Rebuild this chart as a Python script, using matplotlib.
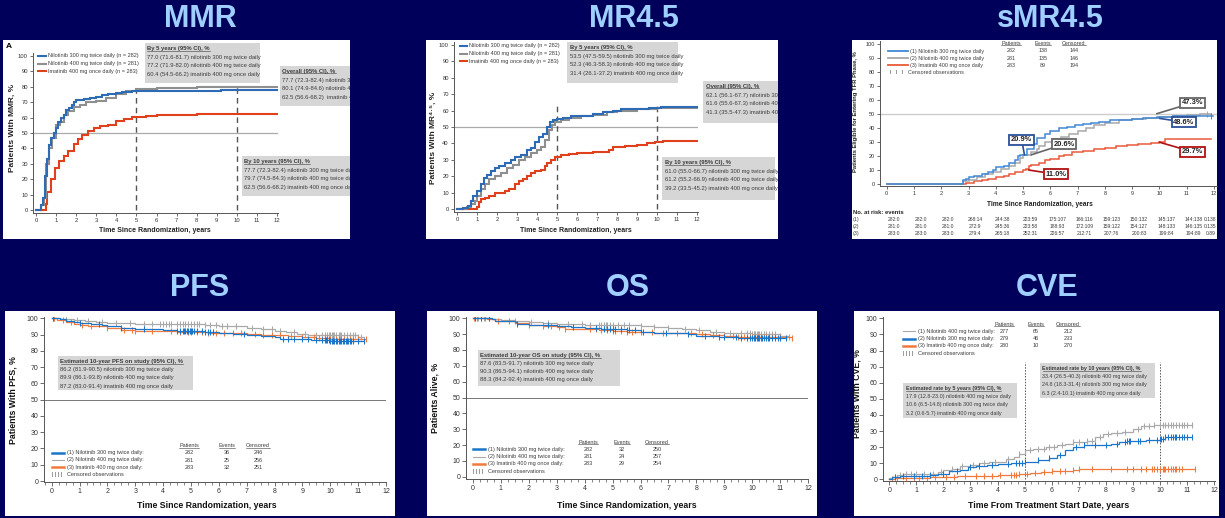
import matplotlib
matplotlib.use("Agg")
import matplotlib.pyplot as plt
import numpy as np
from matplotlib.patches import Rectangle
from matplotlib.ticker import MultipleLocator

W, H = 1225, 518
NAVY = "#00005a"
TITLE_C = "#9fcfff"
BOX_C = "#d6d6d6"
TXT_C = "#3c3c3c"
NARROW = ["Liberation Sans Narrow", "Liberation Sans", "DejaVu Sans"]
plt.rcParams["font.family"] = ["Liberation Sans", "DejaVu Sans"]

YEARS = list(range(13))
YTICKS = list(range(0, 101, 10))

# ---------------- MMR (cumulative %, step curves) ----------------
mmr_n300_t = [0, 0.25, 0.35, 0.45, 0.55, 0.65, 0.75, 0.9, 1.0, 1.1, 1.25, 1.4, 1.5, 1.65, 1.8, 1.9, 2.0, 2.4, 2.7, 3.0, 3.3, 3.6, 4.0, 4.3, 4.8, 5.5, 9.2, 12.0]
mmr_n300_y = [0, 3, 8, 22, 33, 42, 47, 50, 53, 57, 60, 62, 65, 66, 68, 70, 71.5, 72, 72.5, 73.5, 74.5, 75.5, 76.2, 76.8, 77.2, 77.5, 77.7, 77.7]
mmr_n400_t = [0, 0.25, 0.4, 0.5, 0.65, 0.8, 1.0, 1.2, 1.4, 1.6, 1.9, 2.2, 2.5, 3.0, 3.5, 4.0, 4.5, 5.0, 6.0, 8.0, 12.0]
mmr_n400_y = [0, 3, 8, 30, 40, 47, 55, 57, 62, 64, 67, 68, 70, 71, 73, 75.5, 77.5, 78.5, 79.5, 80.1, 80.1]
mmr_im_t = [0, 0.45, 0.5, 0.55, 0.75, 0.95, 1.15, 1.4, 1.6, 1.9, 2.1, 2.3, 2.6, 2.9, 3.2, 3.6, 4.0, 4.4, 4.8, 5.5, 6.0, 8.0, 12.0]
mmr_im_y = [0, 0, 4, 12, 20, 27, 32, 35, 38, 43, 46, 49, 51, 53, 54.5, 55.5, 57.5, 59, 60.5, 61, 62, 62.3, 62.5]

# ---------------- MR4.5 ----------------
mr_n300_t = [0, 0.3, 0.55, 0.7, 0.8, 1.0, 1.2, 1.35, 1.5, 1.7, 1.9, 2.1, 2.4, 2.7, 2.9, 3.2, 3.5, 3.7, 3.9, 4.1, 4.3, 4.5, 4.65, 4.8, 5.0, 5.3, 5.7, 6.2, 6.8, 7.3, 7.8, 8.2, 9.0, 9.6, 10.2, 12.0]
mr_n300_y = [0, 0.5, 2, 5, 8, 11, 15, 19, 21, 23, 25, 26, 28, 30, 32, 33, 36, 37, 41, 44, 46, 50, 53, 54, 55, 55.5, 56.5, 57, 58, 59, 60, 60.8, 61.2, 61.5, 62, 62.1]
mr_n400_t = [0, 0.5, 0.7, 0.9, 1.0, 1.2, 1.4, 1.6, 1.9, 2.2, 2.5, 2.8, 3.1, 3.4, 3.7, 4.0, 4.2, 4.4, 4.6, 4.75, 4.9, 5.2, 5.6, 6.2, 6.8, 7.5, 8.0, 9.0, 10.0, 12.0]
mr_n400_y = [0, 1, 3, 5, 8, 12, 15, 18, 20, 22, 25, 27, 30, 32, 34, 36, 38, 42, 48, 51, 53, 54, 55.5, 56.5, 57.5, 59, 60, 61, 61.6, 61.6]
mr_im_t = [0, 0.8, 1.0, 1.1, 1.2, 1.4, 1.6, 1.9, 2.2, 2.4, 2.6, 2.9, 3.1, 3.3, 3.5, 3.7, 3.9, 4.2, 4.4, 4.5, 4.7, 4.9, 5.2, 5.6, 6.0, 6.8, 7.3, 7.6, 7.8, 8.4, 9.0, 9.5, 9.9, 10.3, 12.0]
mr_im_y = [0, 0, 1, 4, 6, 7, 8, 9.5, 10, 11, 12, 15, 17, 18, 20, 22, 23, 24, 26, 28, 30, 32, 33, 33.5, 34, 34.5, 35, 36, 38, 38.5, 39, 40, 41, 41.3, 41.3]

# ---------------- sMR4.5 ----------------
smr_n300_t = [0, 2.78, 2.9, 3.0, 3.2, 3.5, 3.7, 3.9, 4.0, 4.3, 4.5, 4.7, 4.8, 4.9, 5.15, 5.4, 5.5, 5.8, 6.0, 6.3, 6.6, 6.9, 7.2, 7.5, 7.8, 8.2, 8.6, 9.0, 9.4, 9.9, 10.5, 11.0, 11.95]
smr_n300_y = [0, 3, 4, 5, 6, 7.5, 9, 10, 12, 13, 15, 17, 20, 21, 25, 29, 33, 36, 38, 40, 41, 42, 43, 43.5, 44.5, 45.5, 46, 46.5, 47, 48, 48.5, 48.6, 48.6]
smr_n400_t = [0, 2.8, 3.0, 3.3, 3.6, 3.9, 4.2, 4.5, 4.7, 4.9, 5.0, 5.3, 5.5, 5.6, 5.8, 6.1, 6.4, 6.7, 7.0, 7.3, 7.6, 8.0, 8.5, 9.0, 9.5, 10.0, 10.5, 11.0, 11.5, 11.9]
smr_n400_y = [0, 2, 3, 5, 7, 9, 11, 13, 15, 19, 21, 23, 25, 27, 30, 32, 34, 36, 38, 40, 42, 44, 45.5, 46.5, 47, 48, 49, 49.5, 50, 50]
smr_im_t = [0, 2.85, 2.9, 3.2, 3.5, 3.7, 4.0, 4.3, 4.5, 4.7, 5.0, 5.1, 5.2, 5.3, 5.6, 5.8, 6.0, 6.3, 6.5, 6.8, 7.2, 7.6, 8.0, 8.4, 8.8, 9.2, 9.7, 10.0, 10.2, 11.9]
smr_im_y = [0, 0, 1, 2, 3, 4, 5, 6, 7, 9, 10, 11, 13, 14, 15, 17, 18, 20, 21, 23, 24, 25, 26, 27, 28, 29, 29.5, 30, 32, 32]
smr_cens_n300 = [11.9]
smr_cens_n400 = [11.75]
risk_rows = ["(1)", "(2)", "(3)"]
risk_n300 = ["282:0", "282:0", "282:0", "268:14", "244:38", "223:59", "175:107", "166:116", "159:123", "150:132", "145:137", "144:138", "0:138"]
risk_n400 = ["281:0", "281:0", "281:0", "272:9", "245:36", "223:58", "188:93", "172:109", "159:122", "154:127", "148:133", "146:135", "0:135"]
risk_im = ["283:0", "283:0", "283:0", "279:4", "265:18", "252:31", "226:57", "212:71", "207:76", "200:83", "199:84", "194:89", "0:89"]

# ---------------- PFS (survival %) ----------------
pfs_n300_t = [0, 0.3, 0.5, 0.8, 1.0, 1.4, 1.8, 2.0, 2.5, 3.0, 4.0, 4.5, 5.2, 5.5, 6.0, 6.5, 7.0, 7.5, 8.0, 8.2, 8.8, 9.3, 10.0, 11.2]
pfs_n300_y = [100, 99.5, 98.5, 98, 97, 96.5, 96, 95, 94, 93.5, 93, 92.5, 92, 91.5, 91, 90.5, 89.5, 89, 88.5, 87.5, 87, 86.5, 86.2, 86.0]
pfs_n400_t = [0, 0.3, 0.8, 1.2, 1.6, 2.0, 3.0, 5.5, 6.0, 6.5, 7.0, 7.5, 8.0, 8.4, 8.8, 9.2, 9.8, 10.5, 11.0, 11.2]
pfs_n400_y = [100, 99.5, 99, 98.5, 98, 97, 96.5, 96, 95.5, 95, 94, 93.5, 92.5, 91.5, 90.5, 90, 89.9, 89.5, 88.5, 88.5]
pfs_im_t = [0, 0.2, 0.5, 0.8, 1.0, 1.3, 1.6, 2.0, 2.5, 3.0, 3.5, 4.5, 5.6, 7.0, 7.5, 8.5, 9.0, 9.5, 10.0, 11.0, 11.3]
pfs_im_y = [100, 99, 97.5, 96.5, 96, 95.5, 95, 94, 93, 92.5, 92, 91.5, 91, 90.5, 90, 89, 88.5, 88, 87.5, 87.2, 87.2]
pfs_cens_n300 = [0.05, 1.0, 1.7, 2.5, 3.3, 4.5, 4.6, 4.7, 4.75, 4.8, 4.85, 4.9, 4.95, 5.0, 5.05, 5.1, 5.2, 5.4, 5.5, 5.6, 5.7, 5.8, 6.9, 8.3, 8.5, 8.7, 9.0, 9.2, 9.5, 9.7, 9.8, 9.85, 9.9, 9.95, 10.0, 10.05, 10.1, 10.15, 10.2, 10.25, 10.3, 10.35, 10.4, 10.45, 10.5, 10.55, 10.6, 10.65, 10.7, 10.75, 10.8, 11.0, 11.2]
pfs_cens_n400 = [0.1, 0.5, 0.9, 1.3, 1.8, 2.3, 2.8, 3.3, 3.6, 3.9, 4.0, 4.1, 4.2, 4.3, 4.5, 4.6, 4.7, 4.8, 4.9, 5.0, 5.1, 5.2, 5.3, 5.5, 5.7, 5.9, 6.1, 6.3, 6.6, 7.2, 7.6, 7.9, 8.2, 8.7, 9.1, 9.5, 9.7, 9.8, 9.9, 9.95, 10.0, 10.05, 10.1, 10.15, 10.2, 10.3, 10.35, 10.4, 10.5, 10.6, 10.7, 10.8, 10.9, 11.0, 11.1]
pfs_cens_im = [0.05, 0.1, 0.4, 0.7, 1.1, 1.4, 2.0, 2.6, 2.9, 3.0, 3.6, 4.3, 4.6, 4.9, 5.0, 5.2, 5.4, 5.6, 5.9, 6.2, 6.5, 6.8, 7.3, 7.6, 7.9, 8.2, 8.6, 9.0, 9.4, 9.6, 9.8, 9.9, 10.0, 10.1, 10.2, 10.3, 10.4, 10.5, 10.6, 10.7, 10.8, 11.0, 11.3]

# ---------------- OS (survival %) ----------------
os_n300_t = [0, 0.7, 0.8, 1.2, 1.5, 1.6, 2.0, 2.5, 3.0, 3.5, 4.0, 4.6, 5.0, 5.5, 6.0, 6.5, 7.0, 7.7, 8.0, 8.8, 9.5, 11.2]
os_n300_y = [100, 99.5, 98.5, 98, 97.5, 96.5, 96, 95.5, 95, 94.5, 94, 93.5, 93, 92.5, 91.5, 91, 90.5, 90, 89, 88, 87.6, 87.5]
os_n400_t = [0, 0.7, 1.0, 1.5, 2.0, 2.5, 3.0, 4.0, 5.5, 6.0, 6.5, 7.0, 7.5, 8.0, 8.5, 9.0, 9.5, 10.0, 10.5, 11.0, 11.3]
os_n400_y = [100, 99.5, 99, 98, 97.5, 97, 96.5, 96, 95.5, 95, 94.5, 94, 93.5, 92.5, 91.5, 91, 90.5, 90.3, 90, 89, 88.5]
os_im_t = [0, 0.5, 0.8, 1.0, 1.5, 2.0, 2.5, 3.0, 3.3, 4.0, 4.5, 5.0, 5.5, 6.5, 7.0, 8.0, 8.5, 9.0, 9.5, 10.0, 11.0, 11.4]
os_im_y = [100, 99.5, 98.5, 98, 97, 96, 95, 94.5, 93.5, 93, 92.5, 92, 91.5, 91, 90.5, 90, 89.5, 89, 88.5, 88.3, 88, 87.5]
os_cens_n300 = [0.1, 0.3, 0.6, 1.6, 2.7, 3.6, 4.4, 4.7, 4.8, 4.9, 5.0, 5.1, 5.3, 5.5, 5.6, 5.8, 6.1, 6.9, 7.7, 8.3, 8.8, 9.0, 9.4, 9.6, 9.8, 9.9, 10.0, 10.05, 10.1, 10.15, 10.2, 10.25, 10.3, 10.35, 10.4, 10.5, 10.55, 10.6, 10.7, 10.8, 10.9, 11.0, 11.2]
os_cens_n400 = [0.1, 0.2, 0.4, 0.6, 1.5, 2.1, 2.7, 3.4, 3.9, 4.2, 4.5, 4.6, 4.7, 4.75, 4.8, 4.9, 5.0, 5.2, 5.4, 5.6, 6.0, 6.5, 7.0, 7.6, 8.1, 8.7, 9.2, 9.6, 9.8, 9.9, 10.0, 10.05, 10.1, 10.15, 10.2, 10.25, 10.3, 10.4, 10.5, 10.6, 10.7, 10.8, 11.0, 11.3]
os_cens_im = [0.05, 0.15, 0.3, 0.45, 0.9, 1.3, 2.0, 2.5, 2.8, 3.1, 3.3, 4.2, 4.4, 4.6, 4.8, 5.0, 5.1, 5.3, 5.5, 5.7, 6.0, 6.4, 6.8, 7.3, 7.8, 8.2, 8.6, 9.0, 9.3, 9.5, 9.7, 9.8, 9.9, 10.0, 10.1, 10.2, 10.3, 10.4, 10.5, 10.6, 10.7, 10.8, 11.0, 11.4]

# ---------------- CVE (cumulative %) ----------------
cve_n400_t = [0, 0.1, 0.3, 0.5, 1.0, 1.5, 1.8, 2.0, 2.3, 2.6, 3.0, 3.3, 3.7, 4.0, 4.3, 4.6, 4.8, 5.0, 5.3, 5.8, 6.2, 6.5, 6.8, 7.3, 7.6, 7.9, 8.2, 8.6, 9.0, 9.3, 9.8, 10.0, 11.2]
cve_n400_y = [1, 1.5, 2.5, 3, 3.2, 3.5, 4.5, 5.5, 6.5, 8, 9, 10, 10.5, 11, 12.5, 14, 16, 17.9, 19, 20, 21, 22, 23, 24, 26, 28, 29, 29.5, 31, 33, 33.5, 34, 34]
cve_n300_t = [0, 0.1, 0.4, 1.0, 1.5, 1.8, 2.2, 2.6, 2.9, 3.2, 3.6, 4.0, 4.5, 5.0, 5.5, 5.9, 6.2, 6.5, 6.8, 7.2, 7.8, 8.2, 8.5, 8.8, 9.5, 10.0, 10.2, 11.2]
cve_n300_y = [0, 1.5, 2, 2.2, 2.5, 3.5, 5, 6, 7.5, 8.5, 9, 9.5, 10, 10.6, 12, 13, 15, 18, 20, 21, 21.5, 22, 23, 24, 24.5, 25, 26.5, 26.5]
cve_im_t = [0, 0.2, 0.7, 1.5, 2.0, 2.5, 3.0, 4.0, 4.8, 5.2, 5.6, 6.0, 6.8, 7.0, 8.0, 10.0, 11.3]
cve_im_y = [0, 0.5, 1, 1.2, 1.5, 2, 2.2, 2.5, 3.2, 4, 4.5, 5, 6, 6.2, 6.3, 6.3, 6.5]
cve_cens_n400 = [0.2, 0.4, 0.6, 0.8, 1.0, 1.3, 1.6, 1.9, 2.3, 2.7, 3.1, 3.5, 3.9, 4.4, 4.8, 5.2, 5.5, 5.7, 5.9, 6.1, 6.4, 6.8, 7.0, 7.3, 7.5, 7.8, 8.1, 8.4, 8.7, 9.2, 9.4, 9.6, 9.8, 10.0, 10.1, 10.2, 10.3, 10.4, 10.5, 10.6, 10.7, 10.8, 10.9, 11.0, 11.2]
cve_cens_n300 = [0.2, 0.5, 0.9, 1.2, 1.5, 2.0, 2.5, 3.0, 3.3, 3.8, 4.4, 4.7, 4.8, 4.9, 5.0, 5.5, 5.9, 6.3, 6.9, 7.2, 7.6, 8.0, 8.4, 8.7, 8.8, 8.85, 8.9, 9.2, 9.25, 9.6, 9.9, 10.0, 10.05, 10.1, 10.2, 10.3, 10.4, 10.5, 10.55, 10.6, 10.7, 10.8, 10.9, 11.0, 11.2]
cve_cens_im = [0.1, 0.3, 0.6, 0.9, 1.1, 1.4, 1.7, 2.1, 2.4, 2.8, 3.2, 3.5, 3.8, 4.1, 4.5, 4.6, 4.7, 4.8, 5.1, 5.4, 5.7, 6.0, 6.3, 6.5, 6.8, 7.0, 7.5, 8.2, 8.8, 9.0, 9.3, 9.5, 9.7, 9.8, 9.9, 10.0, 10.1, 10.15, 10.2, 10.3, 10.4, 10.5, 10.55, 10.6, 10.7, 10.8, 11.3]

# legend / inset texts
arms_mmr = ["Nilotinib 300 mg twice daily (n = 282)", "Nilotinib 400 mg twice daily (n = 281)", "Imatinib 400 mg once daily (n = 283)"]
mmr_by5 = ["77.0 (71.6-81.7) nilotinib 300 mg twice daily", "77.2 (71.9-82.0) nilotinib 400 mg twice daily", "60.4 (54.5-66.2) imatinib 400 mg once daily"]
mmr_overall = ["77.7 (72.3-82.4) nilotinib 300 mg twice daily", "80.1 (74.9-84.6) nilotinib 400 mg twice daily", "62.5 (56.6-68.2)  imatinib 400 mg once daily"]
mmr_by10 = ["77.7 (72.3-82.4) nilotinib 300 mg twice daily", "79.7 (74.5-84.3) nilotinib 400 mg twice daily", "62.5 (56.6-68.2) imatinib 400 mg once daily"]
mr_by5 = ["53.5 (47.5-59.5) nilotinib 300 mg twice daily", "52.3 (46.3-58.3) nilotinib 400 mg twice daily", "31.4 (26.1-37.2) imatinib 400 mg once daily"]
mr_overall = ["62.1 (56.1-67.7) nilotinib 300 mg twice daily", "61.6 (55.6-67.3) nilotinib 400 mg twice daily", "41.3 (35.5-47.3) imatinib 400 mg once daily"]
mr_by10 = ["61.0 (55.0-66.7) nilotinib 300 mg twice daily", "61.2 (55.2-66.9) nilotinib 400 mg twice daily", "39.2 (33.5-45.2) imatinib 400 mg once daily"]
arms_num = ["(1) Nilotinib 300 mg twice daily", "(2) Nilotinib 400 mg twice daily", "(3) Imatinib 400 mg once daily"]
arms_cve = ["(1) Nilotinib 400 mg twice daily:", "(2) Nilotinib 300 mg twice daily:", "(3) Imatinib 400 mg once daily:"]
smr_table = [["282", "138", "144"], ["281", "135", "146"], ["283", "89", "194"]]
pfs_table = [["282", "36", "246"], ["281", "25", "256"], ["283", "32", "251"]]
os_table = [["282", "32", "250"], ["281", "24", "257"], ["283", "29", "254"]]
cve_table = [["277", "65", "212"], ["279", "46", "233"], ["280", "10", "270"]]
pfs_est = ["86.2 (81.9-90.5) nilotinib 300 mg twice daily", "89.9 (86.1-93.8) nilotinib 400 mg twice daily", "87.2 (83.0-91.4) imatinib 400 mg once daily"]
os_est = ["87.6 (83.5-91.7) nilotinib 300 mg twice daily", "90.3 (86.5-94.1) nilotinib 400 mg twice daily", "88.3 (84.2-92.4) imatinib 400 mg once daily"]
cve_by5 = ["17.9 (12.8-23.0) nilotinib 400 mg twice daily", "10.6 (6.5-14.8) nilotinib 300 mg twice daily", "3.2 (0.6-5.7) imatinib 400 mg once daily"]
cve_by10 = ["33.4 (26.5-40.3) nilotinib 400 mg twice daily", "24.8 (18.3-31.4) nilotinib 300 mg twice daily", "6.3 (2.4-10.1) imatinib 400 mg once daily"]

fig = plt.figure(figsize=(W / 100, H / 100), dpi=100)
fig.patch.set_facecolor(NAVY)
underlined = []


def step_val(t, y, x):
    i = np.searchsorted(t, x, side="right") - 1
    return np.asarray(y)[i]


def panel(x0, y0, x1, y1):
    rect = [x0 / W, 1 - y1 / H, (x1 - x0) / W, (y1 - y0) / H]
    fig.add_artist(Rectangle(rect[:2], rect[2], rect[3], transform=fig.transFigure,
                             fc="white", ec="none", zorder=-5))
    ov = fig.add_axes(rect, zorder=5)
    ov.set_xlim(x0, x1); ov.set_ylim(y1, y0); ov.axis("off")
    return ov


def plot_axes(x_zero, x_end, y_zero, y_hund, left, bottom, fs, xmax=12.05, ymax=102.0):
    sx = (x_end - x_zero) / 12.0
    sy = (y_zero - y_hund) / 100.0
    right = x_zero + xmax * sx
    top = y_zero - ymax * sy
    ax = fig.add_axes([left / W, 1 - bottom / H, (right - left) / W, (bottom - top) / H], zorder=2)
    ax.set_facecolor("none")
    ax.set_xlim(-(x_zero - left) / sx, xmax); ax.set_ylim(-(bottom - y_zero) / sy, ymax)
    ax.set_xticks(YEARS); ax.set_yticks(YTICKS)
    ax.spines[["top", "right"]].set_visible(False)
    ax.spines[["left", "bottom"]].set_color("#555")
    ax.spines[["left", "bottom"]].set_linewidth(0.7)
    ax.tick_params(labelsize=fs, length=2.5, width=0.6, pad=1.2, colors="#555", labelcolor="#333")
    return ax


def info_box(ov, x0, y0, x1, y1, header, lines, fs=4.2, lh=8.6, hx=2.5):
    ov.add_patch(Rectangle((x0, y0), x1 - x0, y1 - y0, fc=BOX_C, ec="none"))
    t = ov.text(x0 + hx, y0 + 5.5, header, fontsize=fs, fontweight="bold", color=TXT_C,
                va="center", family=NARROW, clip_on=True)
    underlined.append((ov, t))
    for k, s in enumerate(lines):
        ov.text(x0 + hx, y0 + 5.5 + lh * (k + 1), s, fontsize=fs, color=TXT_C, va="center",
                family=NARROW, clip_on=True)


def km(ax, t, y, c, lw, cens=None, ms=4.5):
    ax.step(t, y, where="post", color=c, lw=lw, solid_joinstyle="miter")
    if cens:
        ax.plot(cens, step_val(t, y, cens), ls="none", marker="|", ms=ms, mew=0.75, color=c)


def title(x, y, s):
    fig.text(x / W, 1 - y / H, s, fontsize=22, fontweight="bold", color=TITLE_C,
             ha="center", va="center")


BLUE1, GRAY1, RED1 = "#2d6cb5", "#8f8f8f", "#e0401c"
BLUE2, GRAY2, RED2 = "#4189d6", "#a8a8a8", "#e9593a"
BLUE3, GRAY3, ORG3 = "#1b76c9", "#a9a9a9", "#f07a3e"

# ================= MMR =================
title(200, 19, "MMR")
ov = panel(3, 40, 350, 239)
ax = plot_axes(36, 277, 210, 56, 33, 212.5, fs=4.2)
ax.axhline(50, color="#aaaaaa", lw=0.9, zorder=1)
for xv in (5, 10):
    ax.vlines(xv, 0, 80, color="#555", lw=1.0, linestyles=(0, (4, 3)))
km(ax, mmr_im_t, mmr_im_y, RED1, 1.5)
km(ax, mmr_n400_t, mmr_n400_y, GRAY1, 1.5)
km(ax, mmr_n300_t, mmr_n300_y, BLUE1, 1.5)
ov.text(6, 47, "A", fontsize=6, fontweight="bold", va="center")
for k, (lab, c) in enumerate(zip(arms_mmr, (BLUE1, GRAY1, RED1))):
    yy = 56 + 7.5 * k
    ov.plot([38, 46], [yy, yy], color=c, lw=1.5)
    ov.text(48, yy, lab, fontsize=4.0, color=TXT_C, va="center", family=NARROW)
info_box(ov, 145, 43, 260, 83, "By 5 years (95% CI), %", mmr_by5)
info_box(ov, 280, 66, 362, 106, "Overall (95% CI), %", mmr_overall)
info_box(ov, 242, 156, 362, 196, "By 10 years (95% CI), %", mmr_by10)
ov.text(12, 128, "Patients With MMR, %", rotation=90, fontsize=6, fontweight="bold",
        ha="center", va="center", color="#222")
ov.text(155, 230, "Time Since Randomization, years", fontsize=5, fontweight="bold",
        ha="center", va="center", color="#222")

# ================= MR4.5 =================
title(634, 19, "MR4.5")
ov = panel(426, 40, 778, 239)
ax = plot_axes(457, 697, 209, 45, 454, 212, fs=4.2)
ax.axhline(50, color="#aaaaaa", lw=0.9, zorder=1)
for xv in (5, 10):
    ax.vlines(xv, 0, 63, color="#555", lw=1.0, linestyles=(0, (4, 3)))
km(ax, mr_im_t, mr_im_y, RED1, 1.5)
km(ax, mr_n400_t, mr_n400_y, GRAY1, 1.5)
km(ax, mr_n300_t, mr_n300_y, BLUE1, 1.5)
for k, (lab, c) in enumerate(zip(arms_mmr, (BLUE1, GRAY1, RED1))):
    yy = 46 + 7.5 * k
    ov.plot([460, 467], [yy, yy], color=c, lw=1.5)
    ov.text(469, yy, lab, fontsize=4.0, color=TXT_C, va="center", family=NARROW)
info_box(ov, 567, 42, 678, 83, "By 5 years (95% CI), %", mr_by5)
info_box(ov, 703, 81, 790, 123, "Overall (95% CI), %", mr_overall)
info_box(ov, 662, 157, 775, 200, "By 10 years (95% CI), %", mr_by10)
ov.text(433, 138, "Patients With MR\u2074\u00b7\u2075, %", rotation=90, fontsize=6,
        fontweight="bold", ha="center", va="center", color="#222")
ov.text(576, 230, "Time Since Randomization, years", fontsize=5, fontweight="bold",
        ha="center", va="center", color="#222")

# ================= sMR4.5 =================
title(1050, 19, "sMR4.5")
ov = panel(852, 40, 1217, 239)
ax = plot_axes(886.7, 1214, 184.3, 44, 880, 185.5, fs=4.0, xmax=12.1)
ax.axhline(50, color="#cccccc", lw=1.0, zorder=1)
km(ax, smr_im_t, smr_im_y, RED2, 1.1)
km(ax, smr_n400_t, smr_n400_y, GRAY2, 1.1, smr_cens_n400)
km(ax, smr_n300_t, smr_n300_y, BLUE2, 1.1, smr_cens_n300)
callouts = [("20.9%", (5.05, 21), (4.95, 31.8), "#2a4f9a"),
            ("20.6%", (5.3, 21), (6.5, 28.6), "#666666"),
            ("11.0%", (5.2, 10.2), (6.2, 7.2), "#b01010"),
            ("47.3%", (9.9, 50.3), (11.2, 58.0), "#666666"),
            ("48.6%", (10.0, 47.0), (10.9, 44.3), "#2a4f9a"),
            ("29.7%", (10.0, 30.0), (11.2, 23.2), "#b01010")]
for s, xy, xyt, c in callouts:
    ax.annotate(s, xy=xy, xytext=xyt, fontsize=5.4, fontweight="bold", ha="center", va="center",
                color="#222", bbox=dict(boxstyle="square,pad=0.22", fc="white", ec=c, lw=1.3),
                arrowprops=dict(arrowstyle="-", color=c, lw=1.2, shrinkA=0, shrinkB=0))
for k, (lab, c) in enumerate(zip(arms_num, (BLUE2, GRAY2, RED2))):
    yy = 51 + 7.2 * k
    ov.plot([888, 908], [yy, yy], color=c, lw=1.3)
    ov.text(910, yy, lab, fontsize=3.9, color=TXT_C, va="center")
    for j, v in enumerate(smr_table[k]):
        ov.text((1011, 1043, 1074)[j], yy, v, fontsize=3.9, color=TXT_C, ha="center", va="center")
ov.text(890, 72.5, "I   I   I   Censored observations", fontsize=3.9, color=TXT_C, va="center")
for j, h in enumerate(("Patients", "Events", "Censored")):
    t = ov.text((1011, 1043, 1074)[j], 43.5, h, fontsize=3.9, color=TXT_C, ha="center", va="center")
    underlined.append((ov, t))
ov.text(856, 112, "Patients Eligible for Entering TFR Phase, %", rotation=90, fontsize=4.2,
        fontweight="bold", ha="center", va="center", color="#222")
ov.text(1040, 205, "Time Since Randomization, years", fontsize=4.8, fontweight="bold",
        ha="center", va="center", color="#222")
ov.text(853, 212.5, "No. at risk: events", fontsize=4.2, fontweight="bold", va="center", color="#222")
sx = (1214 - 886.7) / 12.0
for k, row in enumerate((risk_n300, risk_n400, risk_im)):
    yy = 219.5 + 7.2 * k
    ov.text(853, yy, risk_rows[k], fontsize=3.8, color=TXT_C, va="center")
    for j, v in enumerate(row):
        if j < 12:
            ov.text(886.7 + (j + 0.25) * sx, yy, v, fontsize=3.6, color=TXT_C, ha="center", va="center")
        else:
            ov.text(1216, yy, v, fontsize=3.6, color=TXT_C, ha="right", va="center")


def surv_legend(ov, x0, ytab, labels, colors, table, cols, lws):
    yy0 = ytab + 7.2
    for k, (lab, c) in enumerate(zip(labels, colors)):
        yy = yy0 + 7.3 * k
        ov.plot([x0, x0 + 12], [yy, yy], color=c, lw=lws[k])
        ov.text(x0 + 15, yy, lab, fontsize=4.0, color=TXT_C, va="center", family=NARROW)
        for j, v in enumerate(table[k]):
            ov.text(cols[j], yy, v, fontsize=4.0, color=TXT_C, ha="center", va="center", family=NARROW)
    ov.text(x0, yy0 + 7.3 * 3, "| | | |   Censored observations", fontsize=4.0, color=TXT_C,
            va="center", family=NARROW)
    for j, h in enumerate(("Patients", "Events", "Censored")):
        t = ov.text(cols[j], ytab, h, fontsize=4.0, color=TXT_C, ha="center", va="center", family=NARROW)
        underlined.append((ov, t))


def setup_surv(ax):
    ax.xaxis.set_minor_locator(MultipleLocator(0.25))
    ax.tick_params(which="minor", length=1.8, width=0.5, colors="#555")
    ax.tick_params(which="major", length=3.0)


# ================= PFS =================
title(200, 288, "PFS")
ov = panel(5, 311, 395, 516)
ax = plot_axes(51.7, 386, 481, 318.3, 44.3, 482, fs=5.0, xmax=12.0, ymax=101)
setup_surv(ax)
ax.axhline(50, color="#777777", lw=0.7, zorder=1)
km(ax, pfs_n400_t, pfs_n400_y, GRAY3, 0.9, pfs_cens_n400)
km(ax, pfs_im_t, pfs_im_y, ORG3, 0.9, pfs_cens_im)
km(ax, pfs_n300_t, pfs_n300_y, BLUE3, 0.9, pfs_cens_n300)
info_box(ov, 58, 356, 193, 390, "Estimated 10-year PFS on study (95% CI), %", pfs_est, fs=4.2, lh=8.2)
surv_legend(ov, 52, 445.5, [s + ":" for s in arms_num], (BLUE3, GRAY3, ORG3), pfs_table,
            (189, 227, 258), (1.8, 0.8, 1.8))
ov.text(13, 400, "Patients With PFS, %", rotation=90, fontsize=6.3, fontweight="bold",
        ha="center", va="center", color="#111")
ov.text(207, 506, "Time Since Randomization, years", fontsize=6.3, fontweight="bold",
        ha="center", va="center", color="#111")

# ================= OS =================
title(628, 288, "OS")
ov = panel(427, 311, 817, 516)
ax = plot_axes(472.7, 808.3, 476.7, 318.3, 466, 479.3, fs=5.0, xmax=12.0, ymax=101)
setup_surv(ax)
ax.axhline(50, color="#777777", lw=0.7, zorder=1)
km(ax, os_n400_t, os_n400_y, GRAY3, 0.9, os_cens_n400)
km(ax, os_im_t, os_im_y, ORG3, 0.9, os_cens_im)
km(ax, os_n300_t, os_n300_y, BLUE3, 0.9, os_cens_n300)
info_box(ov, 478, 350, 620, 386, "Estimated 10-year OS on study (95% CI), %", os_est, fs=4.2, lh=8.0)
surv_legend(ov, 473, 442, [s + ":" for s in arms_num], (BLUE3, GRAY3, ORG3), os_table,
            (588, 622, 657), (1.8, 0.8, 1.8))
ov.text(435, 398, "Patients Alive, %", rotation=90, fontsize=6.3, fontweight="bold",
        ha="center", va="center", color="#111")
ov.text(627, 506, "Time Since Randomization, years", fontsize=6.3, fontweight="bold",
        ha="center", va="center", color="#111")

# ================= CVE =================
title(1047, 288, "CVE")
ov = panel(854, 311, 1219, 516)
ax = plot_axes(889.3, 1214, 479.3, 318.3, 883, 481, fs=5.0, xmax=12.05, ymax=101)
setup_surv(ax)
for xv in (5, 10):
    ax.vlines(xv, 0, 73, color="#555", lw=0.7, linestyles=(0, (1.5, 1.5)))
km(ax, cve_im_t, cve_im_y, ORG3, 0.9, cve_cens_im)
km(ax, cve_n400_t, cve_n400_y, GRAY3, 0.9, cve_cens_n400)
km(ax, cve_n300_t, cve_n300_y, BLUE3, 0.9, cve_cens_n300)
surv_legend(ov, 903, 324, arms_cve, (GRAY3, BLUE3, ORG3), cve_table,
            (1004, 1036, 1068), (0.8, 1.8, 1.8))
info_box(ov, 903, 383, 1017, 418, "Estimated rate by 5 years (95% CI), %", cve_by5, fs=3.9, lh=8.2)
info_box(ov, 1040, 363, 1155, 398, "Estimated rate by 10 years (95% CI), %", cve_by10, fs=3.9, lh=8.2)
ov.text(857, 394, "Patients With CVE, %", rotation=90, fontsize=6.3, fontweight="bold",
        ha="center", va="center", color="#111")
ov.text(1049, 506, "Time From Treatment Start Date, years", fontsize=6.3, fontweight="bold",
        ha="center", va="center", color="#111")

# underline the table / box headers
fig.canvas.draw()
inv = fig.transFigure.inverted()
for axo, t in underlined:
    bb = t.get_window_extent()
    (fx0, fy0), (fx1, _) = inv.transform([(bb.x0, bb.y0), (bb.x1, bb.y0)])
    ln = plt.Line2D([fx0, fx1], [fy0 + 0.5 / H, fy0 + 0.5 / H], transform=fig.transFigure,
                    color=TXT_C, lw=0.4, zorder=6)
    ln.set_clip_box(axo.bbox)
    fig.add_artist(ln)

fig.savefig("out.png", dpi=100, facecolor=NAVY)
